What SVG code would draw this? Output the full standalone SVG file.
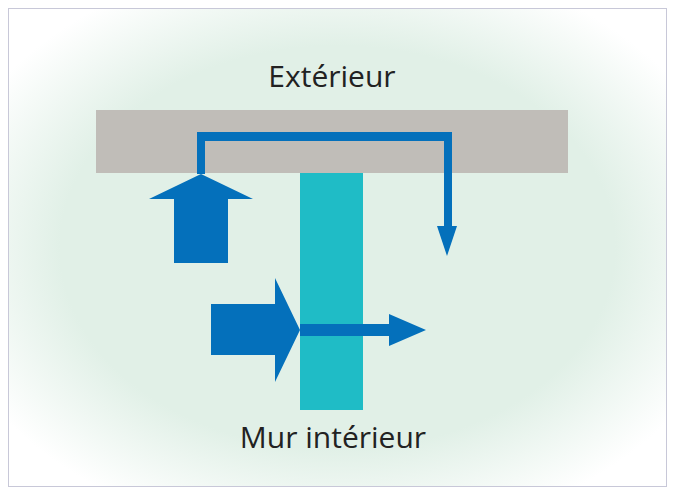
<svg xmlns="http://www.w3.org/2000/svg" width="675" height="495" viewBox="0 0 675 495">
<defs>
<radialGradient id="g" cx="0.5" cy="0.5" r="0.62">
<stop offset="0.68" stop-color="#e1f0e7"/>
<stop offset="1" stop-color="#ffffff"/>
</radialGradient>
<style>.b{fill:#0470bb}.t{font-family:"Open Sans","DejaVu Sans",sans-serif;font-size:30px;fill:#222}</style>
</defs>
<rect x="0" y="0" width="675" height="495" fill="#fff"/>
<rect x="8.5" y="8.5" width="658" height="478" fill="url(#g)" stroke="#c8c8d8"/>
<g id="exterieur"><rect x="96" y="110" width="472" height="63" fill="#c0bdb8"/>
<text class="t" x="332" y="87" text-anchor="middle">Extérieur</text></g>
<g id="mur"><rect x="300" y="173" width="63" height="237" fill="#1fbcc6"/>
<text class="t" x="333" y="448" text-anchor="middle">Mur intérieur</text></g>
<g id="connectors">
<polygon class="b" points="174,263 228,263 228,199 253,199 201,174 149,199 174,199"/>
<polygon class="b" points="197,174 197,132 452,132 452,226 457,226 447,256 437,226 444,226 444,141 205,141 205,174"/>
<polygon class="b" points="211,304 275,304 275,278 300,330 275,382 275,355 211,355"/>
<polygon class="b" points="300,324 389,324 389,314 426,330 389,346 389,336 300,336"/>
</g>
</svg>
